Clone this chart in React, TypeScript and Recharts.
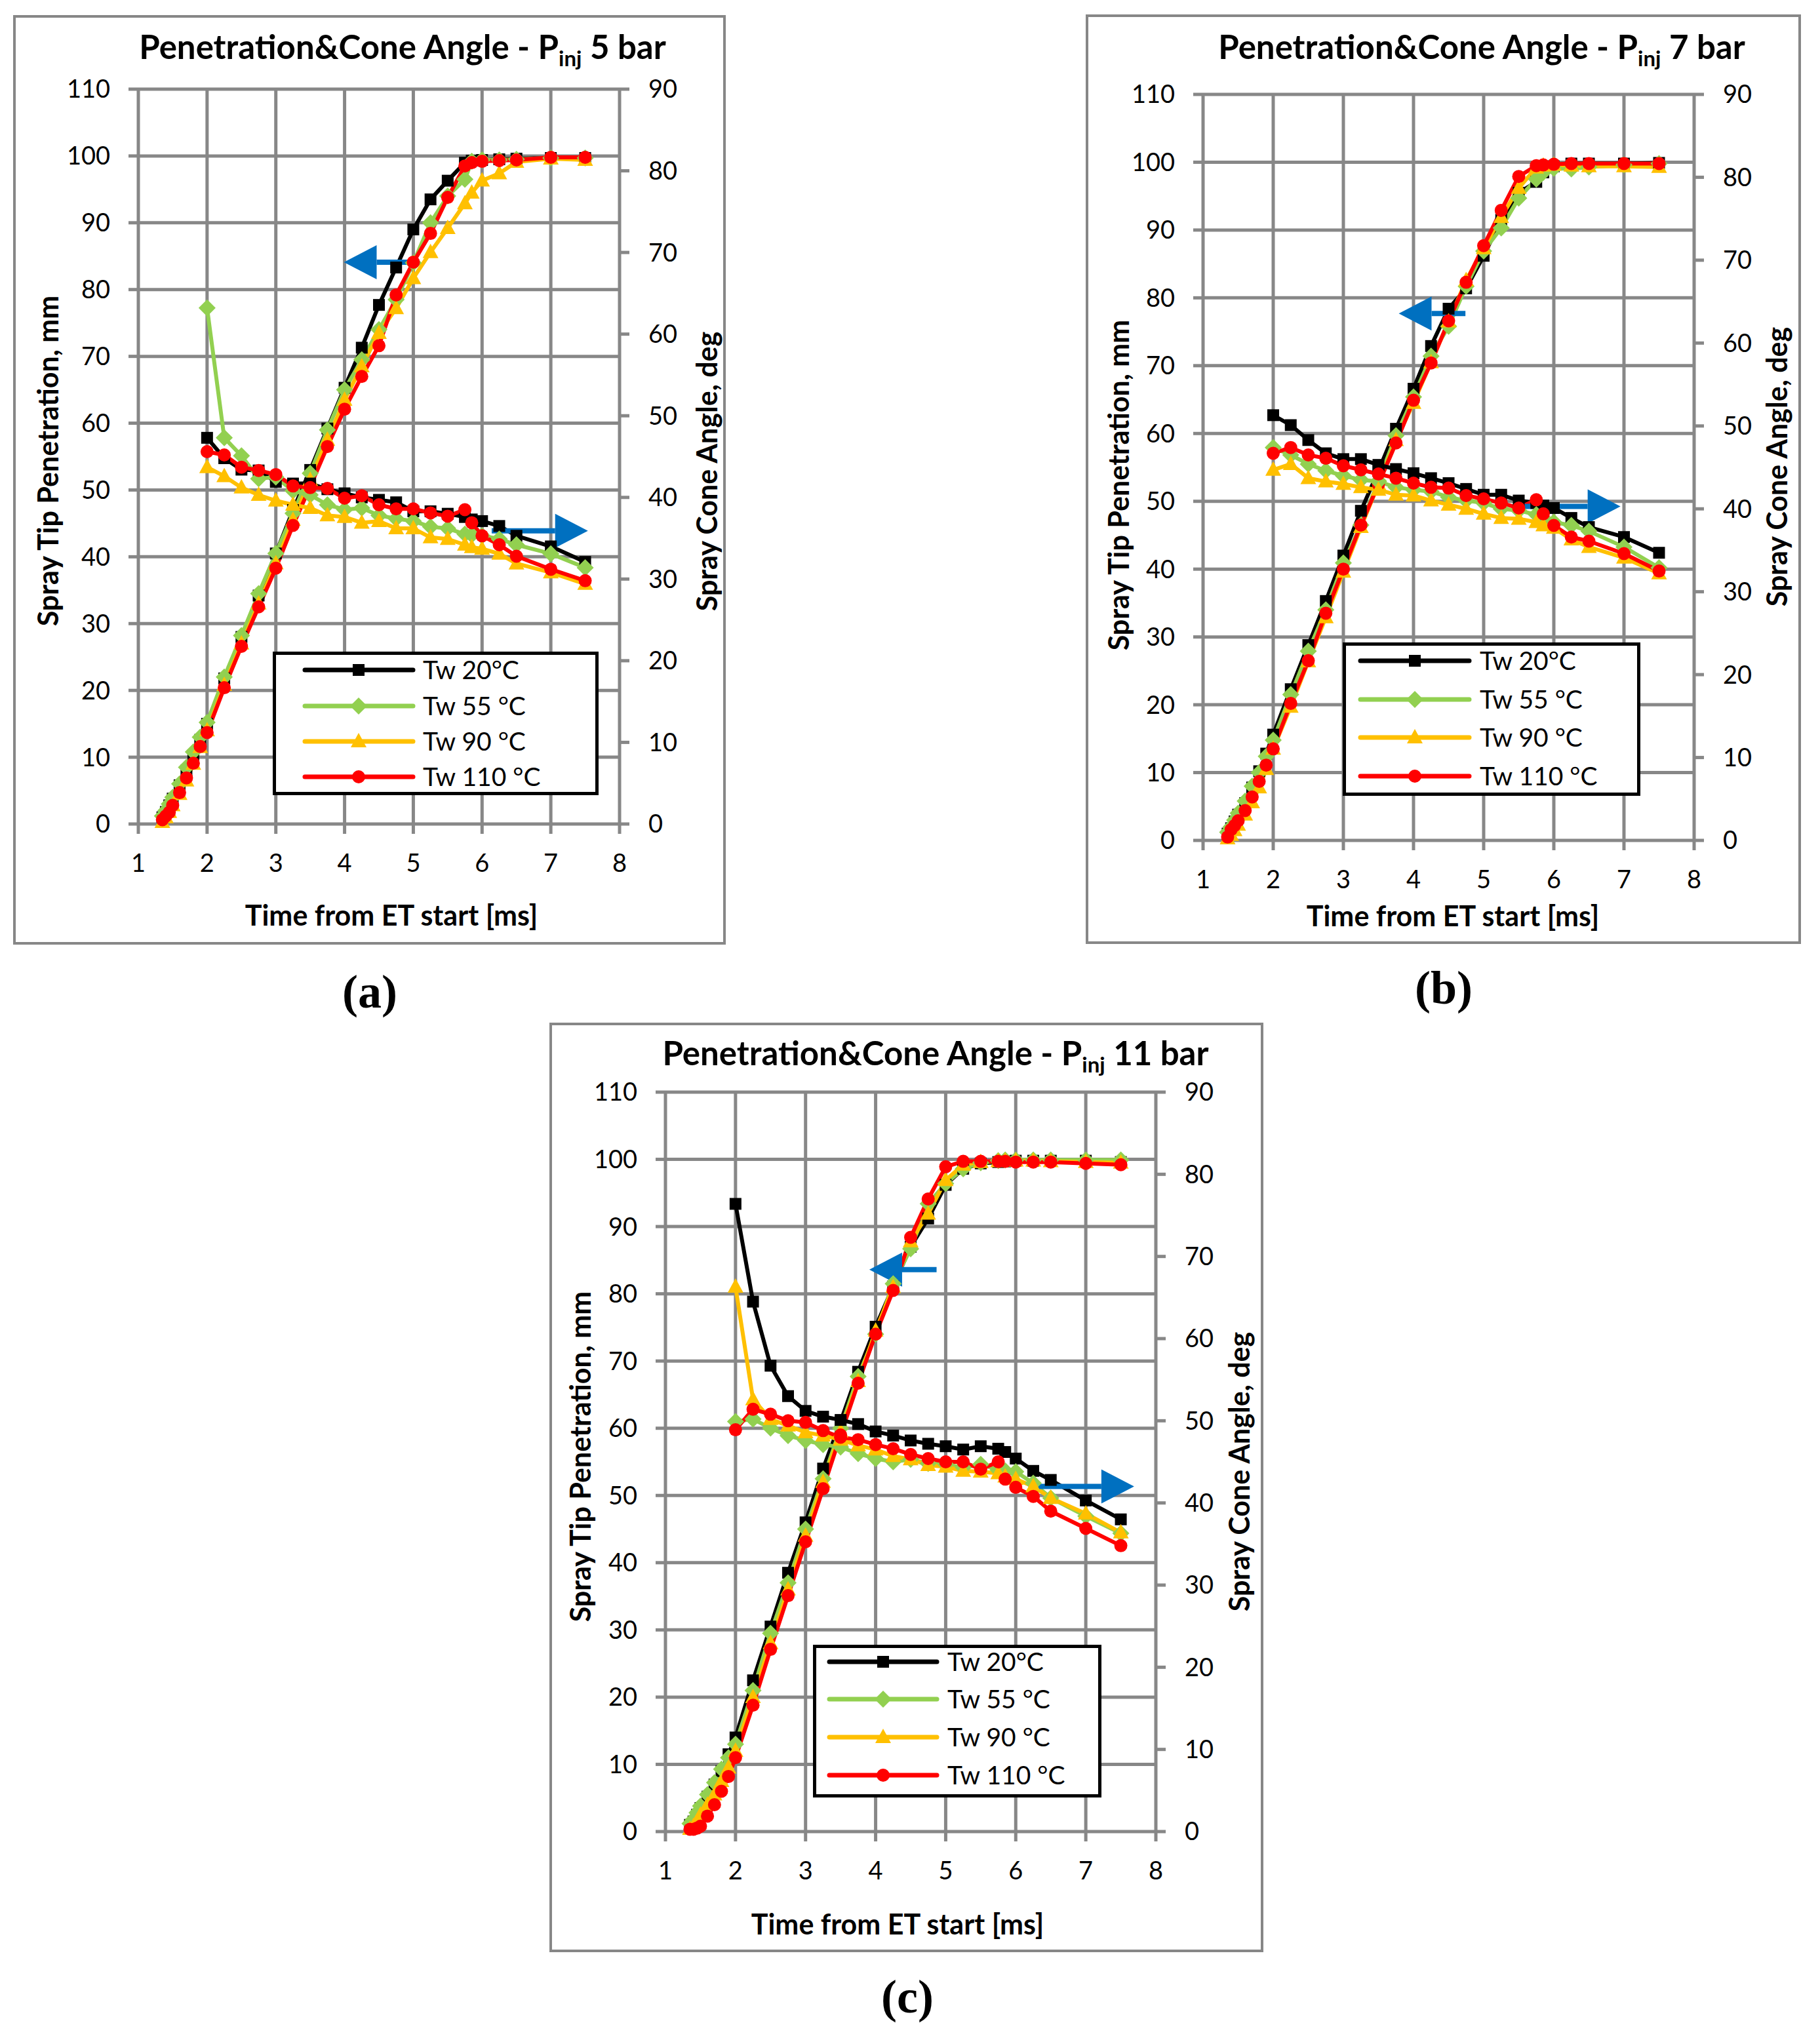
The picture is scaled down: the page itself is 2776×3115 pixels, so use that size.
import React from 'react';
import { ComposedChart, Line, XAxis, YAxis, CartesianGrid, ReferenceLine, Legend } from 'recharts';

// time grids (ms)
const PEN_T = [1.35, 1.4, 1.45, 1.5, 1.6, 1.7, 1.8, 1.9, 2.0, 2.25, 2.5, 2.75, 3.0, 3.25, 3.5, 3.75, 4.0, 4.25, 4.5, 4.75, 5.0, 5.25, 5.5, 5.75, 5.85, 6.0, 6.25, 6.5, 7.0, 7.5];
const CONE_T = [2.0, 2.25, 2.5, 2.75, 3.0, 3.25, 3.5, 3.75, 4.0, 4.25, 4.5, 4.75, 5.0, 5.25, 5.5, 5.75, 5.85, 6.0, 6.25, 6.5, 7.0, 7.5];

const X_TICKS = [1, 2, 3, 4, 5, 6, 7, 8];
const PEN_TICKS = [0, 10, 20, 30, 40, 50, 60, 70, 80, 90, 100, 110];
const CONE_TICKS = [0, 10, 20, 30, 40, 50, 60, 70, 80, 90];

const SERIES_NAMES = ['Tw 20°C', 'Tw 55 °C', 'Tw 90 °C', 'Tw 110 °C'];
const SERIES_COLORS = ['#000000', '#92D050', '#FFC000', '#FF0000'];
const SERIES_SHAPES = ['square', 'diamond', 'triangle', 'circle'];

// (a) 5 bar - penetration, mm
const A_PEN_20 = [1.0, 1.8, 2.8, 3.8, 5.8, 8.0, 10.3, 12.6, 15.0, 21.8, 28.0, 34.2, 40.5, 47.0, 53.0, 59.2, 65.3, 71.3, 77.7, 83.3, 89.0, 93.5, 96.3, 99.0, 99.3, 99.4, 99.5, 99.6, 99.7, 99.7];
const A_PEN_55 = [1.2, 2.0, 3.0, 4.0, 6.0, 8.5, 10.8, 13.0, 15.2, 22.0, 28.2, 34.5, 40.5, 46.5, 52.5, 59.0, 65.0, 69.5, 74.0, 78.5, 84.0, 90.0, 94.0, 96.5, 99.2, 99.4, 99.4, 99.5, 99.7, 99.7];
const A_PEN_90 = [0.3, 1.0, 1.8, 2.8, 4.5, 6.5, 9.0, 11.5, 14.0, 20.8, 27.0, 33.0, 39.0, 45.5, 51.5, 57.5, 63.5, 68.5, 73.5, 77.2, 81.7, 85.6, 89.2, 92.9, 94.5, 96.3, 97.4, 99.1, 99.6, 99.4];
const A_PEN_110 = [0.65, 1.2, 1.75, 2.8, 4.7, 6.9, 9.1, 11.6, 13.7, 20.4, 26.6, 32.5, 38.3, 44.7, 50.5, 56.5, 62.1, 67.0, 71.6, 79.2, 84.1, 88.4, 93.8, 98.5, 99.0, 99.2, 99.3, 99.4, 99.8, 99.8];
// (a) cone angle, deg
const A_CONE_20 = [47.3, 44.8, 43.4, 43.3, 41.9, 41.7, 41.7, 41.0, 40.5, 40.0, 39.7, 39.4, 38.3, 38.3, 38.0, 37.6, 37.3, 37.1, 36.5, 35.3, 34.0, 32.1];
const A_CONE_55 = [63.2, 47.3, 45.1, 42.3, 42.5, 40.8, 40.3, 39.1, 38.5, 38.7, 37.8, 37.4, 37.1, 36.4, 36.2, 35.5, 35.4, 35.3, 34.9, 34.2, 33.1, 31.4];
const A_CONE_90 = [43.7, 42.6, 41.2, 40.3, 39.6, 39.1, 38.7, 37.8, 37.6, 36.9, 37.1, 36.2, 36.2, 35.1, 34.9, 34.2, 33.9, 33.7, 33.1, 31.9, 30.8, 29.4];
const A_CONE_110 = [45.6, 45.2, 43.7, 43.3, 42.8, 41.4, 41.2, 41.1, 39.9, 40.2, 39.1, 38.6, 38.6, 38.1, 37.7, 38.5, 36.9, 35.3, 34.2, 32.8, 31.2, 29.8];

// (b) 7 bar
const B_PEN_20 = [1.0, 1.8, 2.8, 3.8, 5.5, 7.8, 10.2, 12.8, 15.6, 22.3, 28.8, 35.3, 42.0, 48.6, 54.5, 60.7, 66.6, 72.9, 78.4, 81.4, 86.2, 91.5, 95.5, 97.1, 98.5, 99.4, 99.8, 99.8, 99.8, 99.9];
const B_PEN_55 = [1.2, 2.0, 3.0, 4.0, 5.8, 8.0, 10.0, 12.4, 14.8, 21.5, 27.9, 34.0, 40.9, 46.5, 53.0, 59.7, 65.4, 71.4, 75.8, 81.7, 86.9, 90.3, 94.7, 97.5, 98.5, 99.1, 99.0, 99.3, 99.6, 99.8];
const B_PEN_90 = [0.3, 0.8, 1.5, 2.3, 3.8, 5.6, 7.8, 10.5, 13.5, 19.7, 26.4, 32.9, 39.6, 46.2, 52.5, 59.0, 64.5, 70.5, 76.5, 82.6, 87.3, 91.9, 96.2, 99.2, 99.5, 99.6, 99.5, 99.4, 99.4, 99.3];
const B_PEN_110 = [0.5, 1.6, 2.2, 2.9, 4.4, 6.4, 8.7, 11.1, 13.5, 20.2, 26.5, 33.5, 40.0, 46.5, 52.5, 58.6, 64.9, 70.4, 76.6, 82.3, 87.7, 92.9, 97.9, 99.5, 99.6, 99.7, 99.8, 99.8, 99.8, 99.8];
const B_CONE_20 = [51.3, 50.1, 48.3, 46.7, 46.0, 46.0, 45.3, 44.8, 44.3, 43.7, 43.1, 42.4, 41.7, 41.7, 41.0, 40.7, 40.4, 40.1, 38.9, 37.8, 36.6, 34.7];
const B_CONE_55 = [47.4, 46.5, 45.4, 44.6, 44.0, 43.5, 43.3, 42.6, 42.3, 42.1, 41.4, 41.0, 40.7, 40.0, 39.8, 39.3, 38.9, 38.4, 38.0, 37.3, 35.4, 32.9];
const B_CONE_90 = [44.7, 45.4, 43.7, 43.3, 43.0, 42.6, 42.3, 41.7, 41.6, 41.0, 40.5, 40.0, 39.4, 38.9, 38.8, 38.4, 38.0, 37.7, 36.3, 35.4, 34.1, 32.2];
const B_CONE_110 = [46.7, 47.4, 46.5, 46.1, 45.2, 44.7, 44.2, 43.7, 43.1, 42.6, 42.5, 41.6, 41.2, 40.7, 40.1, 41.1, 39.4, 38.0, 36.6, 36.1, 34.6, 32.5];

// (c) 11 bar
const C_PEN_20 = [1.0, 1.5, 2.5, 3.5, 5.2, 7.0, 9.0, 11.5, 14.0, 22.5, 30.5, 38.5, 46.0, 54.0, 61.0, 68.4, 75.1, 81.1, 87.0, 91.2, 96.2, 98.6, 99.4, 99.6, 99.7, 99.8, 99.8, 99.8, 99.8, 99.6];
const C_PEN_55 = [1.2, 1.8, 2.8, 3.8, 5.5, 7.3, 9.3, 11.0, 13.0, 21.0, 29.5, 37.0, 45.0, 52.5, 60.0, 67.7, 74.0, 81.5, 86.7, 93.4, 96.4, 98.6, 99.5, 99.8, 99.9, 99.9, 99.9, 99.9, 99.9, 99.9];
const C_PEN_90 = [0.4, 0.8, 1.5, 2.5, 4.0, 5.5, 7.5, 9.5, 12.0, 20.0, 28.0, 36.0, 44.0, 52.0, 59.5, 67.0, 74.5, 81.0, 87.8, 91.9, 96.9, 99.2, 99.6, 99.7, 99.8, 99.8, 99.8, 99.7, 99.6, 99.5];
const C_PEN_110 = [0.35, 0.35, 0.5, 0.8, 2.3, 4.0, 6.0, 8.2, 11.0, 18.8, 27.1, 35.1, 43.1, 51.0, 59.0, 66.7, 74.0, 80.5, 88.4, 94.1, 98.9, 99.7, 99.7, 99.7, 99.7, 99.6, 99.6, 99.6, 99.4, 99.2];
const C_CONE_20 = [76.4, 64.5, 56.7, 53.0, 51.2, 50.5, 50.1, 49.6, 48.7, 48.2, 47.6, 47.2, 46.9, 46.5, 46.9, 46.6, 46.2, 45.4, 43.9, 42.8, 40.3, 38.0];
const C_CONE_55 = [49.9, 50.2, 49.1, 48.2, 47.6, 47.1, 46.8, 46.0, 45.4, 45.0, 45.3, 44.8, 44.7, 44.3, 44.7, 44.0, 43.9, 43.8, 42.4, 40.6, 38.4, 36.3];
const C_CONE_90 = [66.3, 52.6, 50.2, 49.4, 48.6, 48.2, 47.7, 47.0, 46.5, 45.7, 45.3, 44.6, 44.4, 43.9, 43.8, 43.6, 43.2, 42.9, 42.0, 40.6, 38.7, 36.4];
const C_CONE_110 = [48.9, 51.4, 50.8, 50.0, 49.8, 48.8, 48.0, 47.7, 47.1, 46.6, 45.9, 45.4, 45.0, 45.0, 44.1, 45.0, 42.9, 41.9, 40.8, 39.0, 36.9, 34.8];

const GRID = '#878787';
const ARROW = '#0070C0';
const FONT = 'Lato, "Open Sans", sans-serif';

const PANELS = [
  {
    key: 'a', pressure: '5 bar', caption: '(a)',
    box: { x: 20, y: 23, w: 1087, h: 1418 },
    plot: { l: 191, r: 162, t: 113, b: 184 },
    titleX: 594, titleY: 47,
    leftLabel: { x: 52, y: 680 }, rightLabel: { x: 1057, y: 696 }, xLabel: { x: 577, y: 1372 },
    captionPos: { x: 564, y: 1513 },
    legend: { x: 396, y: 971, w: 497, h: 219, rows: [28, 83, 137, 191], l1: 49, l2: 214, m: 131, tx: 229 },
    pen: [A_PEN_20, A_PEN_55, A_PEN_90, A_PEN_110],
    cone: [A_CONE_20, A_CONE_55, A_CONE_90, A_CONE_110],
    arrowL: { y: 84.1, from: 4.97, to: 3.99 },
    arrowR: { y: 35.9, from: 6.14, to: 7.54 },
  },
  {
    key: 'b', pressure: '7 bar', caption: '(b)',
    box: { x: 1656, y: 22, w: 1091, h: 1418 },
    plot: { l: 179, r: 163, t: 122, b: 158 },
    titleX: 604, titleY: 48,
    leftLabel: { x: 49, y: 718 }, rightLabel: { x: 1053, y: 690 }, xLabel: { x: 560, y: 1374 },
    captionPos: { x: 2202, y: 1507 },
    legend: { x: 392, y: 958, w: 454, h: 234, rows: [28, 87, 145, 204], l1: 27, l2: 193, m: 110, tx: 209 },
    pen: [B_PEN_20, B_PEN_55, B_PEN_90, B_PEN_110],
    cone: [B_CONE_20, B_CONE_55, B_CONE_90, B_CONE_110],
    arrowL: { y: 77.7, from: 4.74, to: 3.79 },
    arrowR: { y: 40.3, from: 5.58, to: 6.95 },
  },
  {
    key: 'c', pressure: '11 bar', caption: '(c)',
    box: { x: 838, y: 1560, w: 1089, h: 1418 },
    plot: { l: 177, r: 164, t: 106, b: 184 },
    titleX: 589, titleY: 45,
    leftLabel: { x: 46, y: 662 }, rightLabel: { x: 1051, y: 685 }, xLabel: { x: 531, y: 1374 },
    captionPos: { x: 1384, y: 3046 },
    legend: { x: 402, y: 949, w: 440, h: 233, rows: [26, 83, 141, 199], l1: 25, l2: 189, m: 107, tx: 205 },
    pen: [C_PEN_20, C_PEN_55, C_PEN_90, C_PEN_110],
    cone: [C_CONE_20, C_CONE_55, C_CONE_90, C_CONE_110],
    arrowL: { y: 83.6, from: 4.87, to: 3.91 },
    arrowR: { y: 42.0, from: 6.31, to: 7.69 },
  },
];

function markerEl(shape: string, color: string, cx: number, cy: number, key?: any) {
  if (cx == null || cy == null || isNaN(cx) || isNaN(cy)) return <g key={key} />;
  if (shape === 'square') return <rect key={key} x={cx - 9} y={cy - 9} width={18} height={18} fill={color} />;
  if (shape === 'diamond')
    return <polygon key={key} points={`${cx},${cy - 13} ${cx + 13},${cy} ${cx},${cy + 13} ${cx - 13},${cy}`} fill={color} />;
  if (shape === 'triangle')
    return <polygon key={key} points={`${cx},${cy - 13} ${cx + 12},${cy + 9} ${cx - 12},${cy + 9}`} fill={color} />;
  return <circle key={key} cx={cx} cy={cy} r={10} fill={color} />;
}

const arrowShape = (p: any) => {
  const { x1, y1, x2, y2 } = p;
  if (x1 == null || x2 == null) return <g />;
  const dir = Math.sign(x2 - x1) || 1;
  const bx = x2 - dir * 50;
  return (
    <g>
      <line x1={x1} y1={y1} x2={bx} y2={y2} stroke={ARROW} strokeWidth={8} />
      <polygon points={`${x2},${y2} ${bx},${y2 - 26} ${bx},${y2 + 26}`} fill={ARROW} />
    </g>
  );
};

function LegendBox({ lg }: any) {
  return (
    <svg width={lg.w} height={lg.h} style={{ display: 'block' }}>
      <rect x={2.5} y={2.5} width={lg.w - 5} height={lg.h - 5} fill="#fff" stroke="#000" strokeWidth={5} />
      {SERIES_NAMES.map((name, i) => (
        <g key={name}>
          <line x1={lg.l1} x2={lg.l2} y1={lg.rows[i]} y2={lg.rows[i]} stroke={SERIES_COLORS[i]} strokeWidth={7} strokeLinecap="round" />
          {markerEl(SERIES_SHAPES[i], SERIES_COLORS[i], lg.m, lg.rows[i])}
          <text x={lg.tx} y={lg.rows[i]} dy="0.36em" fontSize={39} fontFamily={FONT} fill="#000">{name}</text>
        </g>
      ))}
    </svg>
  );
}

function Panel({ cfg }: any) {
  const { box, plot } = cfg;
  const penData = cfg.pen.map((vals: number[]) => PEN_T.map((t, i) => ({ t, v: vals[i] })));
  const coneData = cfg.cone.map((vals: number[]) => CONE_T.map((t, i) => ({ t, v: vals[i] })));
  const tickStyle = { fontSize: 38, fill: '#000', fontFamily: FONT };
  const labelStyle: React.CSSProperties = {
    position: 'absolute', fontFamily: FONT, fontWeight: 700, fontSize: 43, whiteSpace: 'nowrap', lineHeight: 1, color: '#000',
  };

  const renderLine = (data: any[], i: number, axis: string, kind: string) => (
    <Line
      key={`${kind}-${i}`}
      data={data}
      dataKey="v"
      yAxisId={axis}
      type="linear"
      stroke={SERIES_COLORS[i]}
      strokeWidth={6}
      strokeLinejoin="round"
      isAnimationActive={false}
      activeDot={false}
      legendType="none"
      dot={(p: any) => markerEl(SERIES_SHAPES[i], SERIES_COLORS[i], p.cx, p.cy, `${kind}-${i}-${p.index}`)}
    />
  );

  return (
    <div style={{ position: 'absolute', left: box.x, top: box.y, width: box.w, height: box.h }}>
      <div style={{ position: 'absolute', left: 0, top: 0, width: box.w, height: box.h, border: `4px solid ${GRID}`, boxSizing: 'border-box' }} />
      <div style={{ position: 'absolute', left: 0, top: 0 }}>
        <ComposedChart
          width={box.w}
          height={box.h}
          margin={{ top: plot.t, right: 0, bottom: plot.b - 60, left: 0 }}
        >
          <CartesianGrid yAxisId="left" stroke={GRID} strokeWidth={5} />
          <XAxis
            dataKey="t"
            type="number"
            domain={[1, 8]}
            ticks={X_TICKS}
            allowDataOverflow
            height={60}
            axisLine={false}
            tickLine={{ stroke: GRID, strokeWidth: 5 }}
            tickSize={15}
            tickMargin={31}
            tick={tickStyle}
          />
          <YAxis
            yAxisId="left"
            type="number"
            domain={[0, 110]}
            ticks={PEN_TICKS}
            width={plot.l}
            axisLine={false}
            tickLine={{ stroke: GRID, strokeWidth: 5 }}
            tickSize={15}
            tickMargin={28}
            tick={tickStyle}
          />
          <YAxis
            yAxisId="right"
            orientation="right"
            type="number"
            domain={[0, 90]}
            ticks={CONE_TICKS}
            width={plot.r}
            axisLine={false}
            tickLine={{ stroke: GRID, strokeWidth: 5 }}
            tickSize={15}
            tickMargin={29}
            tick={tickStyle}
          />
          {penData.map((d: any[], i: number) => renderLine(d, i, 'left', 'pen'))}
          {coneData.map((d: any[], i: number) => renderLine(d, i, 'right', 'cone'))}
          <ReferenceLine
            yAxisId="left"
            segment={[{ x: cfg.arrowL.from, y: cfg.arrowL.y }, { x: cfg.arrowL.to, y: cfg.arrowL.y }]}
            shape={arrowShape}
          />
          <ReferenceLine
            yAxisId="right"
            segment={[{ x: cfg.arrowR.from, y: cfg.arrowR.y }, { x: cfg.arrowR.to, y: cfg.arrowR.y }]}
            shape={arrowShape}
          />
          <Legend
            layout="horizontal"
            verticalAlign="middle"
            align="center"
            wrapperStyle={{ left: cfg.legend.x, top: cfg.legend.y, width: cfg.legend.w, height: cfg.legend.h }}
            content={() => <LegendBox lg={cfg.legend} />}
          />
        </ComposedChart>
      </div>
      <div style={{ ...labelStyle, fontSize: 51, left: cfg.titleX, top: cfg.titleY, transform: 'translate(-50%, -50%)' }}>
        Penetration&amp;Cone Angle - P<sub style={{ fontSize: 33, verticalAlign: 'baseline', position: 'relative', top: 11 }}>inj</sub> {cfg.pressure}
      </div>
      <div style={{ ...labelStyle, left: cfg.leftLabel.x, top: cfg.leftLabel.y, transform: 'translate(-50%, -50%) rotate(-90deg)' }}>
        Spray Tip Penetration, mm
      </div>
      <div style={{ ...labelStyle, left: cfg.rightLabel.x, top: cfg.rightLabel.y, transform: 'translate(-50%, -50%) rotate(-90deg)' }}>
        Spray Cone Angle, deg
      </div>
      <div style={{ ...labelStyle, left: cfg.xLabel.x, top: cfg.xLabel.y, transform: 'translate(-50%, -50%)' }}>
        Time from ET start [ms]
      </div>
    </div>
  );
}

export default function App() {
  return (
    <div style={{ position: 'absolute', left: 0, top: 0, width: 2776, height: 3115, background: '#fff', overflow: 'hidden' }}>
      {PANELS.map((cfg) => (
        <Panel key={cfg.key} cfg={cfg} />
      ))}
      {PANELS.map((cfg) => (
        <div
          key={`cap-${cfg.key}`}
          style={{
            position: 'absolute', left: cfg.captionPos.x, top: cfg.captionPos.y, transform: 'translate(-50%, -50%)',
            fontFamily: '"Liberation Serif", "DejaVu Serif", serif', fontWeight: 700, fontSize: 72, lineHeight: 1, whiteSpace: 'nowrap',
          }}
        >
          {cfg.caption}
        </div>
      ))}
    </div>
  );
}
